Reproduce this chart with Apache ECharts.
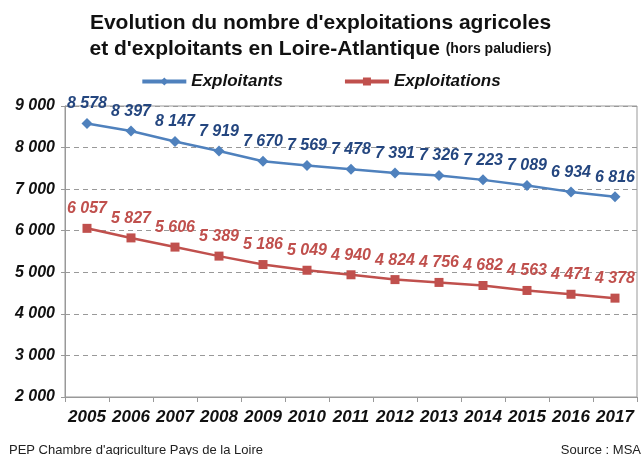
<!DOCTYPE html>
<html>
<head>
<meta charset="utf-8">
<script src="https://cdn.jsdelivr.net/npm/echarts@6/dist/echarts.min.js"></script>
<style>
  html, body { margin: 0; padding: 0; background: #fff; }
  #chart { width: 641px; height: 455px; }
</style>
</head>
<body>
<div id="chart"></div>
<script>
// données
var years = ["2005", "2006", "2007", "2008", "2009", "2010", "2011", "2012", "2013", "2014", "2015", "2016", "2017"];
var exploitants = [8578, 8397, 8147, 7919, 7670, 7569, 7478, 7391, 7326, 7223, 7089, 6934, 6816];
var exploitations = [6057, 5827, 5606, 5389, 5186, 5049, 4940, 4824, 4756, 4682, 4563, 4471, 4378];
var yTicks = [2000, 3000, 4000, 5000, 6000, 7000, 8000, 9000];

function fmt(v) {
  return String(v).replace(/\B(?=(\d{3})+(?!\d))/g, " ");
}

var FONT = "Liberation Sans, Arial, sans-serif";

var chart = echarts.init(document.getElementById("chart"));
chart.setOption({
  animation: false,
  title: {
    text: "Evolution du nombre d'exploitations agricoles\net d'exploitants en Loire-Atlantique {s|(hors paludiers)}",
    left: "center",
    top: 5,
    textStyle: {
      fontFamily: FONT,
      fontSize: 21,
      fontWeight: "bold",
      color: "#111",
      lineHeight: 26,
      rich: {
        s: { fontFamily: FONT, fontSize: 14, fontWeight: "bold", color: "#111" }
      }
    }
  },
  legend: {
    top: 68,
    left: "center",
    itemGap: 60,
    itemWidth: 44,
    itemHeight: 10,
    lineStyle: { width: 4 },
    textStyle: { fontFamily: FONT, fontSize: 17, fontWeight: "bold", fontStyle: "italic", color: "#111" },
    data: ["Exploitants", "Exploitations"]
  },
  grid: { left: 65, right: 4, top: 106, bottom: 58, show: true, borderColor: "#999", borderWidth: 1 },
  xAxis: {
    type: "category",
    data: years,
    boundaryGap: true,
    axisLine: { lineStyle: { color: "#999" } },
    axisTick: { show: true, length: 5, lineStyle: { color: "#999" } },
    axisLabel: { interval: 0, fontFamily: FONT, fontSize: 17, fontWeight: "bold", fontStyle: "italic", color: "#111", margin: 12 }
  },
  yAxis: {
    type: "value",
    min: 2000,
    max: 9000,
    interval: 1000,
    axisLine: { show: true, lineStyle: { color: "#999" } },
    axisTick: { show: true, length: 4, lineStyle: { color: "#999" } },
    splitLine: { lineStyle: { color: "#999", type: [5, 4], width: 1 } },
    axisLabel: {
      fontFamily: FONT, fontSize: 16, fontWeight: "bold", fontStyle: "italic", color: "#111", margin: 10,
      formatter: function (v) { return yTicks.indexOf(v) >= 0 ? fmt(v) : ""; }
    }
  },
  series: [
    {
      name: "Exploitants",
      type: "line",
      data: exploitants,
      symbol: "diamond",
      symbolSize: 11,
      color: "#4F81BD",
      lineStyle: { width: 2.5, color: "#4F81BD" },
      itemStyle: { color: "#4F81BD" },
      label: {
        show: true, position: "top", distance: 6,
        fontFamily: FONT, fontSize: 16, fontWeight: "bold", fontStyle: "italic", color: "#24467F",
        formatter: function (p) { return fmt(p.value); }
      }
    },
    {
      name: "Exploitations",
      type: "line",
      data: exploitations,
      symbol: "rect",
      symbolSize: 9,
      color: "#C0504D",
      lineStyle: { width: 2.5, color: "#C0504D" },
      itemStyle: { color: "#C0504D" },
      label: {
        show: true, position: "top", distance: 7,
        fontFamily: FONT, fontSize: 16, fontWeight: "bold", fontStyle: "italic", color: "#C0504D",
        formatter: function (p) { return fmt(p.value); }
      }
    }
  ],
  graphic: [
    { type: "text", left: 9, top: 444, style: { text: "PEP Chambre d'agriculture Pays de la Loire", font: "13px " + FONT, fill: "#222" } },
    { type: "text", right: 0, top: 444, style: { text: "Source : MSA", font: "13px " + FONT, fill: "#222" } }
  ]
});
</script>
</body>
</html>
